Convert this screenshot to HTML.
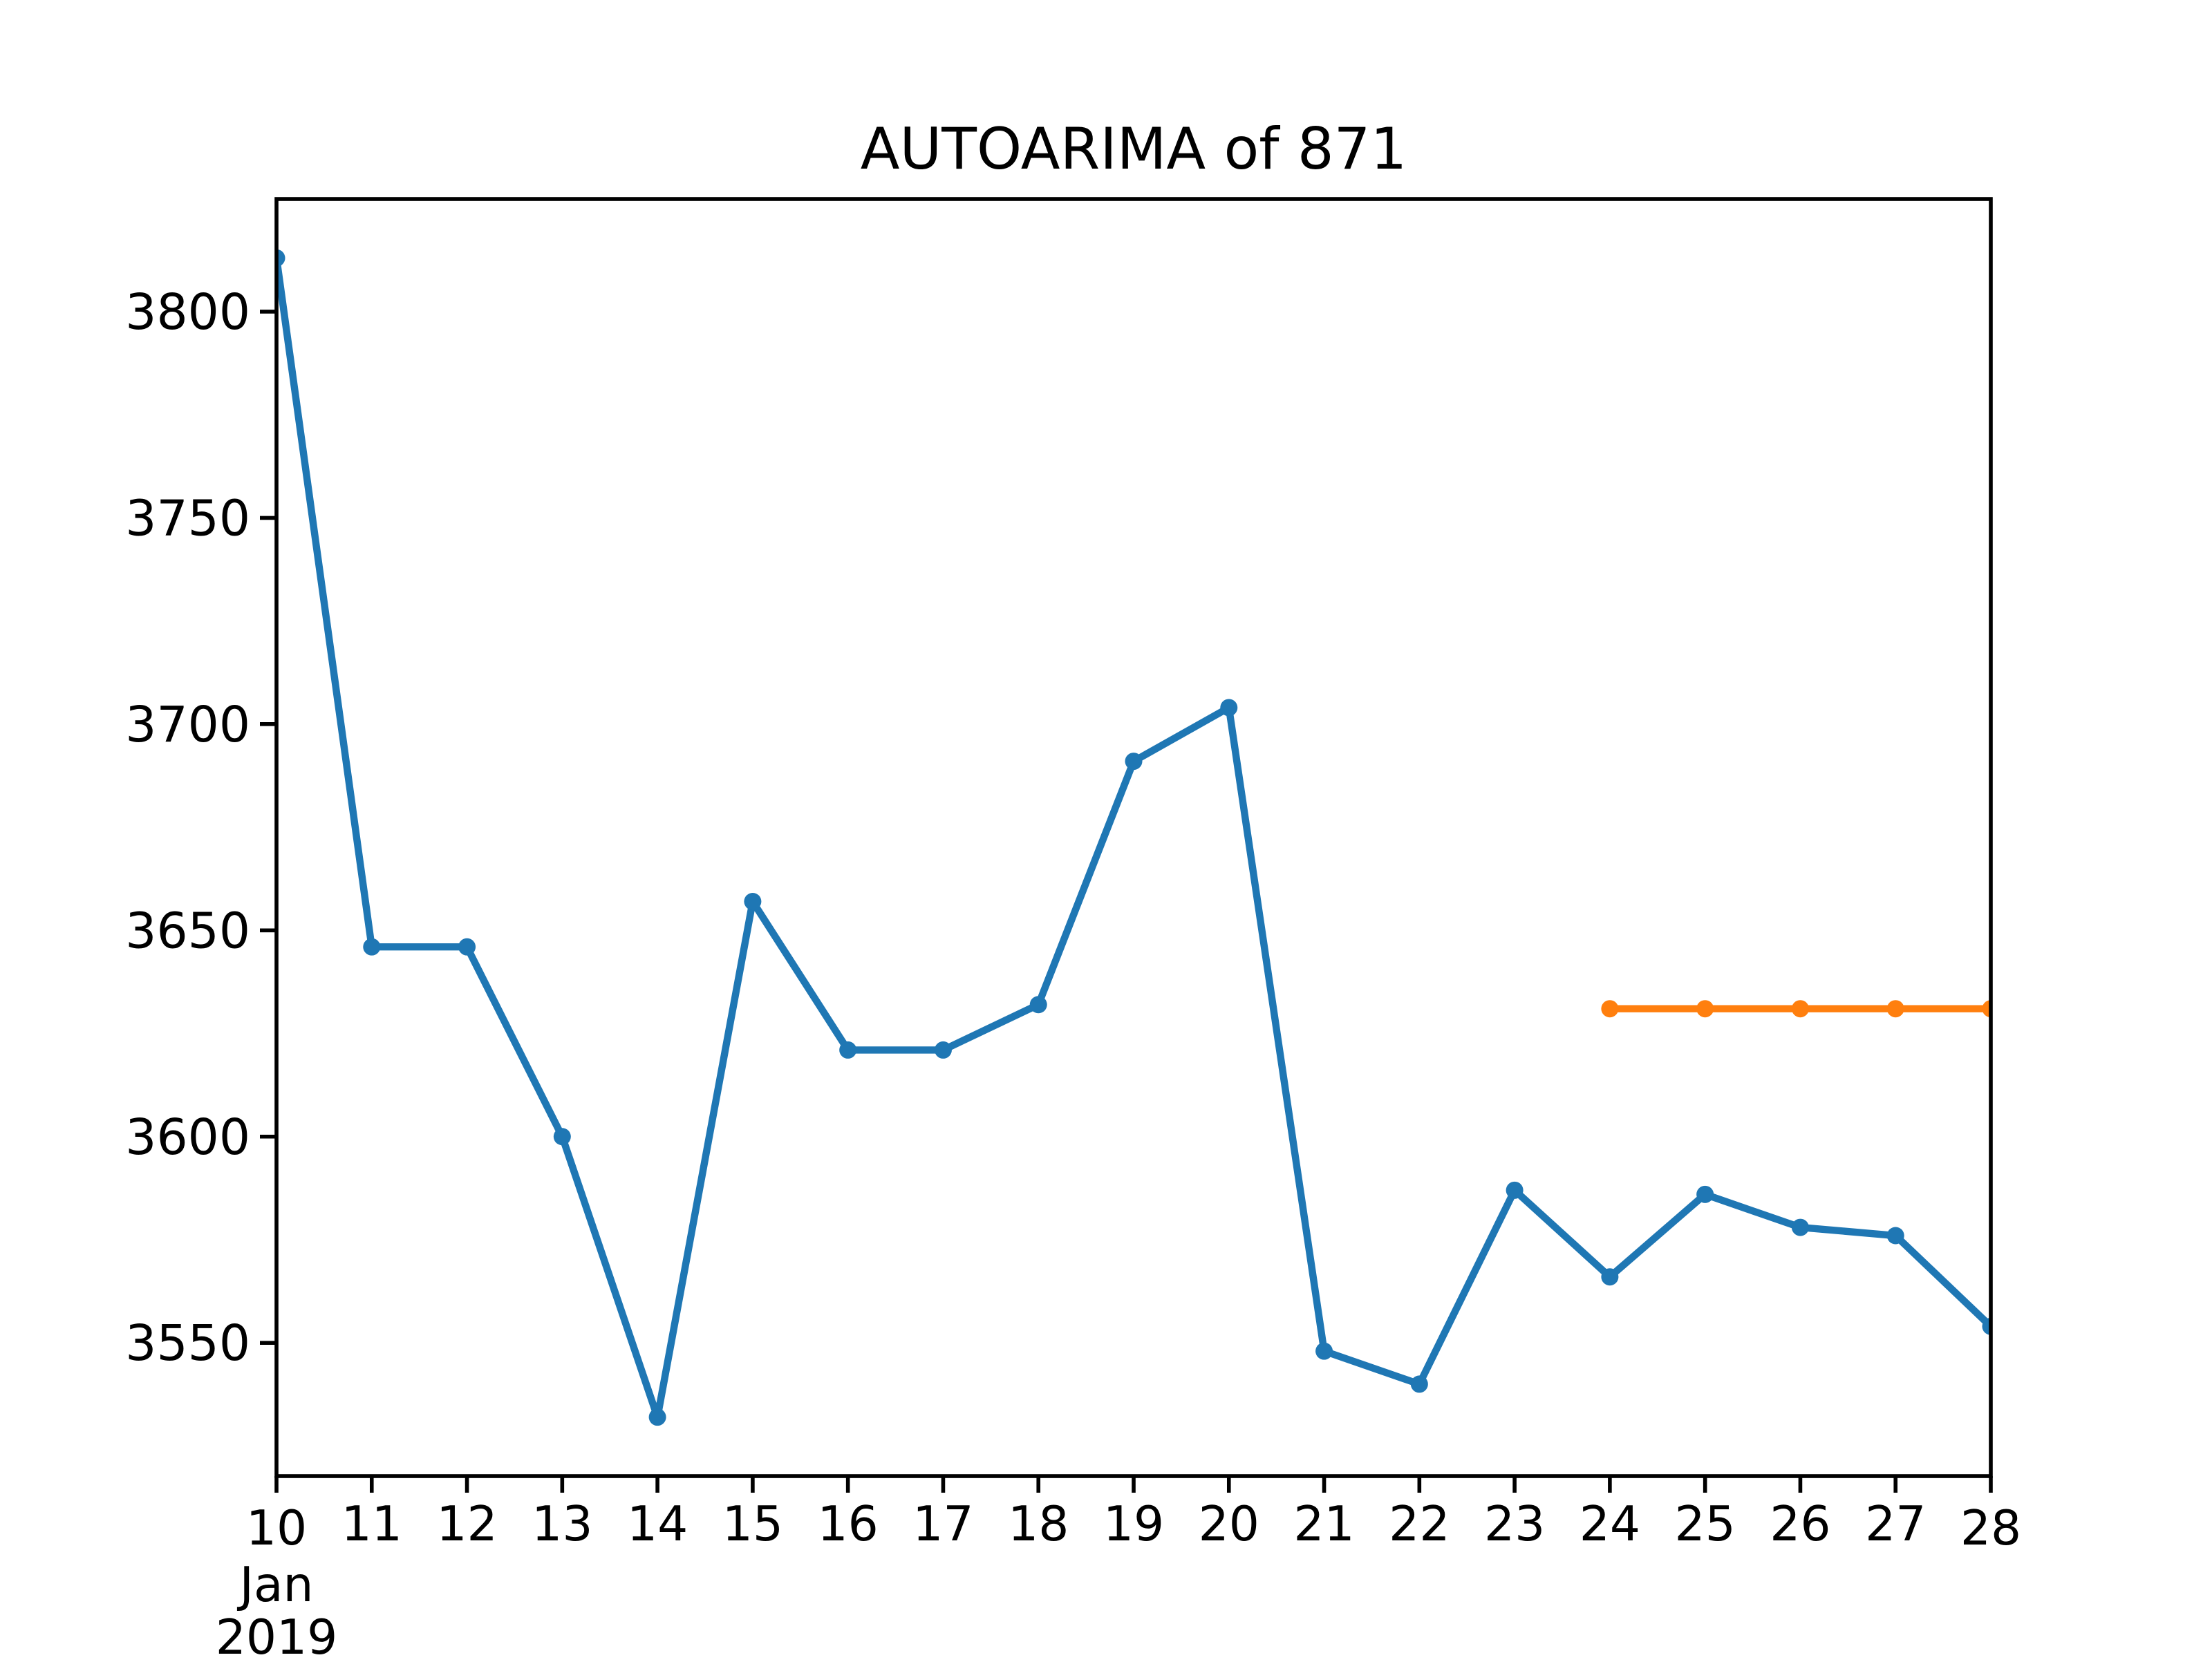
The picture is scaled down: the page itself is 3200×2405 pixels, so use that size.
<!DOCTYPE html>
<html><head><meta charset="utf-8"><style>
html,body{margin:0;padding:0;background:#fff}
svg text{font-family:"DejaVu Sans","Liberation Sans",sans-serif;fill:#000}
</style></head><body>
<svg id="chart" width="3200" height="2400" viewBox="0 0 3200 2400" xmlns="http://www.w3.org/2000/svg">
<rect width="3200" height="2400" fill="#fff"/>
<text x="1640" y="244" font-size="83" text-anchor="middle">AUTOARIMA of 871</text>
<g id="plot"></g>
</svg>
<script>
const days = [10,11,12,13,14,15,16,17,18,19,20,21,22,23,24,25,26,27,28];
const actual = [3813,3646,3646,3600,3532,3657,3621,3621,3632,3691,3704,3548,3540,3587,3566,3586,3578,3576,3554];
const forecastDays = [24,25,26,27,28];
const forecast = [3631,3631,3631,3631,3631];
const yTicks = [3550,3600,3650,3700,3750,3800];
const xTickLabels = ["10","11","12","13","14","15","16","17","18","19","20","21","22","23","24","25","26","27","28"];

const L=400,R=2880,T=288,B=2136,ymin=3517.7,ymax=3827.3;
const xs=d=>L+(d-10)*(R-L)/18;
const ys=v=>B-(v-ymin)*(B-T)/(ymax-ymin);
const NS="http://www.w3.org/2000/svg";
const g=document.getElementById('plot');
function mk(tag,attrs){const e=document.createElementNS(NS,tag);for(const k in attrs)e.setAttribute(k,attrs[k]);g.appendChild(e);return e;}

const defs=mk('defs',{});
const cp=document.createElementNS(NS,'clipPath');cp.setAttribute('id','clip');
const cr=document.createElementNS(NS,'rect');cr.setAttribute('x',L);cr.setAttribute('y',T);cr.setAttribute('width',R-L);cr.setAttribute('height',B-T);
cp.appendChild(cr);defs.appendChild(cp);

function series(dx,vals,color,name){
  const pts=dx.map((d,i)=>xs(d)+','+ys(vals[i])).join(' ');
  const pl=mk('polyline',{points:pts,fill:'none',stroke:color,'stroke-width':10.4,'stroke-linejoin':'round','clip-path':'url(#clip)'});
  
  
  dx.forEach((d,i)=>{
    const c=mk('circle',{cx:xs(d),cy:ys(vals[i]),r:12.5,fill:color,'clip-path':'url(#clip)'});
    
    
  });
}
series(days,actual,'#1f77b4','actual');
series(forecastDays,forecast,'#ff7f0e','forecast');

const sp=mk('rect',{x:L,y:T,width:R-L,height:B-T,fill:'none',stroke:'#000','stroke-width':5.6});



yTicks.forEach(v=>{
  const y=ys(v);
  const t=mk('line',{x1:L,x2:L-24,y1:y,y2:y,stroke:'#000','stroke-width':5.6});
  
  
  const tx=mk('text',{x:L-38,y:y+25,'font-size':71,'text-anchor':'end'});
  tx.textContent=v;
  
  
});
days.forEach((d,i)=>{
  const x=xs(d);
  const t=mk('line',{x1:x,x2:x,y1:B,y2:B+24,stroke:'#000','stroke-width':5.6});
  
  
  const edge=(i===0||i===days.length-1)?6:0;
  const tx=mk('text',{x:x,y:2229+edge,'font-size':69.4,'text-anchor':'middle'});
  tx.textContent=xTickLabels[i];
  
  
});
[["Jan",2317],["2019",2393]].forEach(([s,y])=>{
  const tx=mk('text',{x:L,y:y,'font-size':69.4,'text-anchor':'middle'});
  tx.textContent=s;
  
  
});
</script>
</body></html>
